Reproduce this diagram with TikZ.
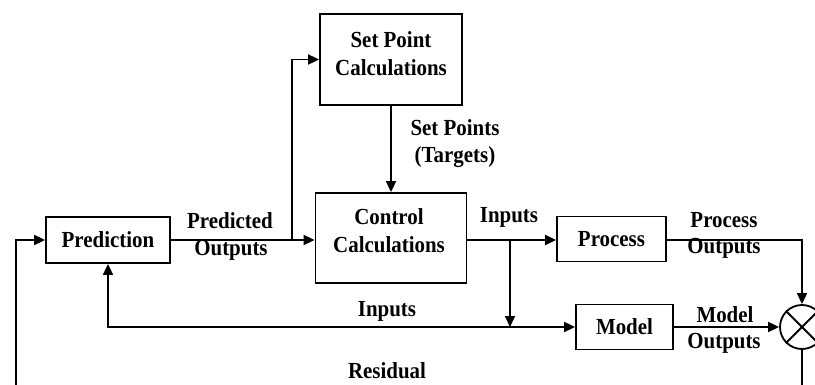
\documentclass[tikz,border=0pt]{standalone}
\usepackage{fontspec}
\setmainfont{Liberation Serif}[FakeStretch=0.91]
\usetikzlibrary{arrows.meta}
\begin{document}
\begin{tikzpicture}[x=1pt,y=-1pt,
  every node/.style={font=\fontsize{23}{28}\selectfont\bfseries},
  blk/.style={draw, line width=1.8pt, inner sep=0pt, align=center},
  wire/.style={line width=1.8pt},
  arr/.style={wire, -{Triangle[length=11pt,width=10pt]}},
  lbl/.style={inner sep=0pt, align=center}]
  \path[use as bounding box, clip] (0,0) rectangle (815,385);

  % blocks
  \node[blk, minimum width=142pt, minimum height=91pt] (sp) at (391,59.5) {};
  \node[lbl] (spt) at (391,54) {Set Point\\Calculations};
  \node[blk, minimum width=151pt, minimum height=90pt] (ctrl) at (391,238) {};
  \node[lbl] (ctt) at (389,231) {Control\\Calculations};
  \node[blk, minimum width=124pt, minimum height=46pt] (pred) at (108,240) {Prediction};
  \node[blk, minimum width=109pt, minimum height=45pt] (proc) at (611.5,239) {Process};
  \node[blk, minimum width=97pt, minimum height=45pt] (model) at (624.5,327) {Model};
  \node[draw, circle, line width=1.8pt, minimum size=44pt, inner sep=0pt] (sum) at (802,327) {};
  \draw[wire] (sum.north west) -- (sum.south east);
  \draw[wire] (sum.south west) -- (sum.north east);

  % junctions and free ends
  \coordinate (jp) at (292,240);
  \coordinate (ji) at (510,240);
  \coordinate (jm) at (510,327);
  \coordinate (rl) at (16,385);
  \coordinate (rr) at (802,385);

  % connectors
  \draw[arr] (pred.east |- jp) -- (ctrl.west |- jp);
  \draw[arr] (jp) |- (sp.west);
  \draw[arr] (sp.south) -- (ctrl.north);
  \draw[arr] (ctrl.east |- ji) -- (proc.west |- ji);
  \draw[arr] (ji) -- (jm);
  \draw[wire, {Triangle[length=11pt,width=10pt]}-{Triangle[length=11pt,width=10pt]}] (pred.south) |- (model.west);
  \draw[arr] (proc.east |- ji) -| (sum.north);
  \draw[arr] (model.east) -- (sum.west);
  \draw[wire] (sum.south) -- (rr);
  \draw[arr] (rl) |- (pred.west);

  % signal labels
  \node[lbl] (l1) at (230,221) {Predicted};
  \node[lbl] (l2) at (231,250) {Outputs};
  \node[lbl] (l3) at (455,128) {Set Points};
  \node[lbl] (l4) at (455,157) {(Targets)};
  \node[lbl] (l5) at (509,217) {Inputs};
  \node[lbl] (l6) at (387,311) {Inputs};
  \node[lbl] (l7) at (724,220) {Process};
  \node[lbl] (l8) at (724,248) {Outputs};
  \node[lbl] (l9) at (725,315) {Model};
  \node[lbl] (l10) at (724,343) {Outputs};
  \node[lbl] (l11) at (387,371) {Residual};
\end{tikzpicture}
\end{document}
